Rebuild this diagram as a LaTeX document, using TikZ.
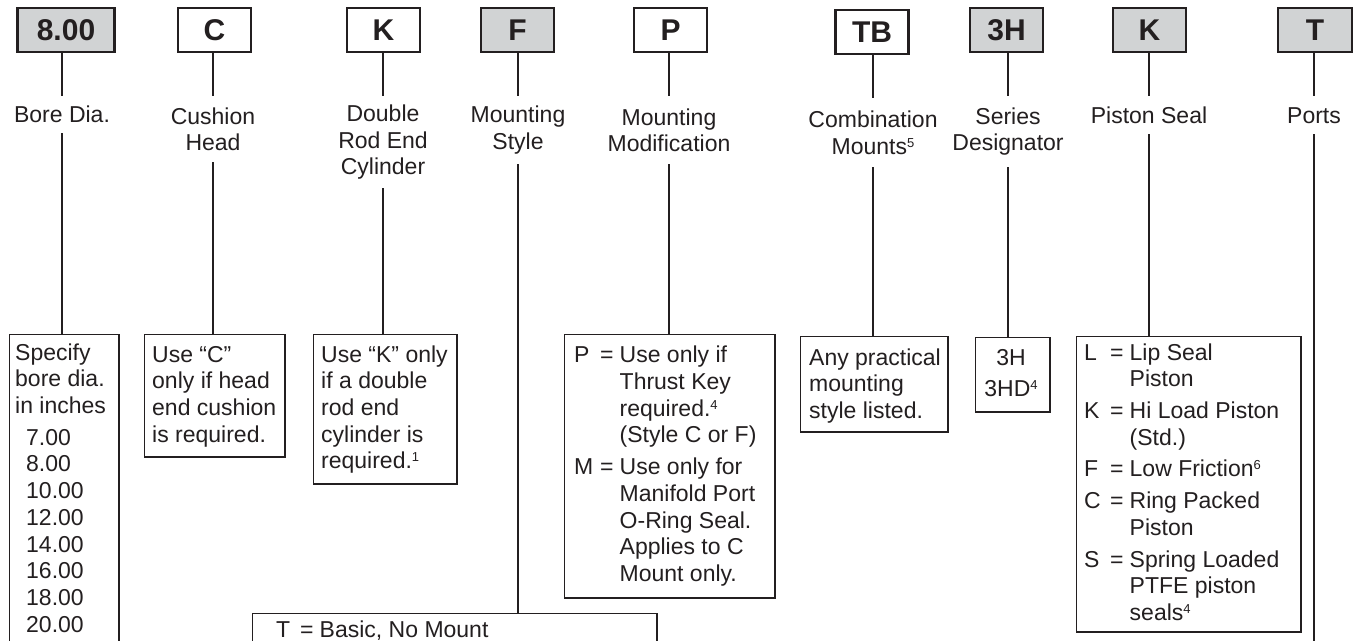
\documentclass[tikz,border=0pt]{standalone}
\usepackage{fontspec}
\setmainfont{Liberation Sans}
\definecolor{ink}{HTML}{231F20}
\definecolor{codegray}{HTML}{D1D3D4}
\newcommand\supn[1]{\raisebox{7.2pt}{\fontsize{13}{13}\selectfont #1}}
\newcommand\lfont{\fontsize{23}{26.7}\selectfont}
\newcommand\eqrow[3]{\makebox[#1][l]{#2}\makebox[19.5pt][l]{=}#3}
\begin{document}
\begin{tikzpicture}[x=1pt,y=-1pt,
  every node/.style={text=ink},
  codebox/.style={draw=ink, line width=2.3pt, minimum width=73pt, minimum height=43.7pt, inner sep=0pt, font=\fontsize{30}{30}\selectfont\bfseries},
  graybox/.style={codebox, fill=codegray},
  whitebox/.style={codebox, fill=white},
  lbl/.style={inner sep=0pt, align=center, font=\lfont, anchor=north},
  infobox/.style={draw=ink, line width=1.3pt, inner sep=0pt, anchor=north west},
  infotext/.style={inner sep=0pt, anchor=north west, font=\lfont},
  conn/.style={draw=ink, line width=2.4pt}]
\useasboundingbox (0,0) rectangle (1354,640);
\clip (0,0) rectangle (1354,640);
\fill[white] (0,0) rectangle (1354,640);

% code boxes
\node[graybox, minimum width=97pt] (c1) at (66,30) {8.00};
\node[whitebox] (c2) at (214.5,30) {C};
\node[whitebox] (c3) at (383.5,30) {K};
\node[graybox] (c4) at (517.5,30) {F};
\node[whitebox] (c5) at (670.5,30) {P};
\node[whitebox] (c6) at (872,32) {TB};
\node[graybox] (c7) at (1006.5,30) {3H};
\node[graybox] (c8) at (1149.5,30) {K};
\node[graybox, minimum width=74pt] (c9) at (1315,30) {T};

% labels
\node[lbl, minimum height=37pt] (l1) at (62,96) {Bore Dia.};
\node[lbl, minimum height=66pt] (l2) at (213,96) {Cushion\\Head};
\node[lbl, minimum height=92pt] (l3) at (383,96) {Double\\Rod End\\Cylinder};
\node[lbl, minimum height=68pt] (l4) at (518,96) {Mounting\\Style};
\node[lbl, minimum height=68pt] (l5) at (669,96) {Mounting\\Modification};
\node[lbl, minimum height=69pt] (l6) at (873,98) {Combination\\Mounts\supn{5}};
\node[lbl, minimum height=71pt] (l7) at (1008,96) {Series\\Designator};
\node[lbl, minimum height=38pt] (l8) at (1149,96) {Piston Seal};
\node[lbl, minimum height=38pt] (l9) at (1314,96) {Ports};

% lower boxes
\node[infobox, minimum width=109.7pt, minimum height=340pt] (b1) at (8.65,333.65) {};
\node[infobox, minimum width=140.7pt, minimum height=122.7pt] (b2) at (143.65,333.65) {};
\node[infobox, minimum width=143.7pt, minimum height=149.7pt] (b3) at (312.65,333.65) {};
\node[infobox, minimum width=404.7pt, minimum height=100pt] (b4) at (251.65,612.65) {};
\node[infobox, minimum width=210.7pt, minimum height=263.7pt] (b5) at (563.65,333.65) {};
\node[infobox, minimum width=147.7pt, minimum height=95.7pt] (b6) at (799.65,335.65) {};
\node[infobox, minimum width=74.7pt, minimum height=74.7pt] (b7) at (974.65,336.65) {};
\node[infobox, minimum width=224.7pt, minimum height=295.7pt] (b8) at (1075.65,335.65) {};
\coordinate (p9) at (1314,660);

% texts
\node[infotext] (t1) at (15,341.3) {\begin{tabular}{@{}l@{}}Specify\\bore dia.\\in inches\\[5pt]
\hspace{11pt}7.00\\\hspace{11pt}8.00\\\hspace{11pt}10.00\\\hspace{11pt}12.00\\\hspace{11pt}14.00\\\hspace{11pt}16.00\\\hspace{11pt}18.00\\\hspace{11pt}20.00\end{tabular}};
\node[infotext] (t2) at (152,343.3) {\begin{tabular}{@{}l@{}}Use “C”\\only if head\\end cushion\\is required.\end{tabular}};
\node[infotext] (t3) at (321,343.3) {\begin{tabular}{@{}l@{}}Use “K” only\\if a double\\rod end\\cylinder is\\required.\supn{1}\end{tabular}};
\node[infotext] (t4) at (276,618.8) {\begin{tabular}{@{}l@{}}\eqrow{24pt}{T}{Basic, No Mount}\end{tabular}};
\node[infotext] (t5) at (574,344) {\begin{tabular}{@{}l@{}}\eqrow{26pt}{P}{Use only if}\\\hspace{45.5pt}Thrust Key\\\hspace{45.5pt}required.\supn{4}\\\hspace{45.5pt}(Style C or F)\\[5pt]
\eqrow{26pt}{M}{Use only for}\\\hspace{45.5pt}Manifold Port\\\hspace{45.5pt}O-Ring Seal.\\\hspace{45.5pt}Applies to C\\\hspace{45.5pt}Mount only.\end{tabular}};
\node[infotext] (t6) at (809,346.3) {\begin{tabular}{@{}l@{}}Any practical\\mounting\\style listed.\end{tabular}};
\node[infotext, anchor=north] (t7) at (1011,346.3) {\begin{tabular}{@{}c@{}}3H\\[5pt]3HD\supn{4}\end{tabular}};
\node[infotext] (t8) at (1084,341.3) {\begin{tabular}{@{}l@{}}\eqrow{26pt}{L}{Lip Seal}\\\hspace{45.5pt}Piston\\[5pt]
\eqrow{26pt}{K}{Hi Load Piston}\\\hspace{45.5pt}(Std.)\\[5pt]
\eqrow{26pt}{F}{Low Friction\supn{6}}\\[5pt]
\eqrow{26pt}{C}{Ring Packed}\\\hspace{45.5pt}Piston\\[5pt]
\eqrow{26pt}{S}{Spring Loaded}\\\hspace{45.5pt}PTFE piston\\\hspace{45.5pt}seals\supn{4}\end{tabular}};

% connectors
\foreach \i in {1,...,9} {\draw[conn] (l\i.north |- c\i.south) -- (l\i.north);}
\foreach \a/\b in {l1/b1,l2/b2,l3/b3,l4/b4,l5/b5,l6/b6,l7/b7,l8/b8} {\draw[conn] (\a.south) -- (\a.south |- \b.north);}
\draw[conn] (l9.south) -- (p9);
\end{tikzpicture}
\end{document}
